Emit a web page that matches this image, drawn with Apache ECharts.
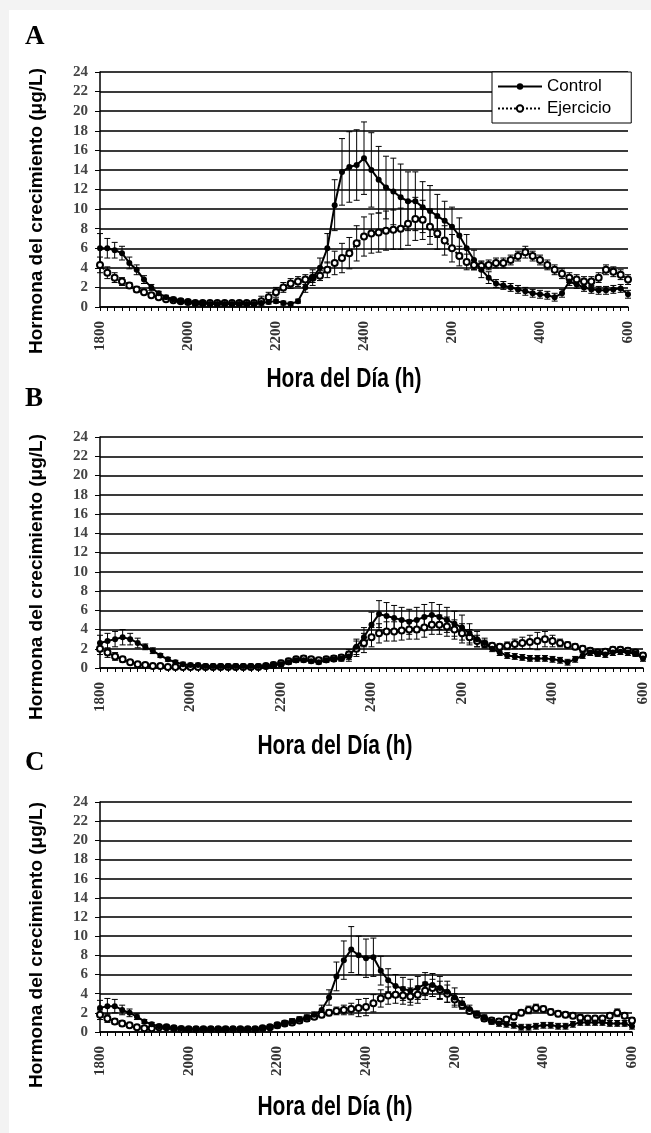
<!DOCTYPE html>
<html>
<head>
<meta charset="utf-8">
<script src="https://cdn.jsdelivr.net/npm/echarts@6/dist/echarts.min.js"></script>
<style>
  html, body {margin: 0; padding: 0; background: #f3f3f3;}
  #paper {position: absolute; left: 9px; top: 10px; right: 0; bottom: 0; background: #fff;}
  #chart {position: absolute; left: 0; top: 0; width: 651px; height: 1133px;}
</style>
</head>
<body>
<div id="paper"></div>
<div id="chart"></div>
<script>
// 10-minute samples, 1800 -> 600 (73 points)
var xTickLabels = ['1800', '2000', '2200', '2400', '200', '400', '600'];

var ctrlA = [6.0, 6.0, 5.8, 5.5, 4.5, 3.8, 2.8, 2.0, 1.4, 1.0, 0.8, 0.6, 0.5, 0.4, 0.4, 0.3, 0.3, 0.3, 0.3, 0.3,
  0.3, 0.3, 0.4, 0.5, 0.6, 0.4, 0.3, 0.6, 2.0, 3.0, 4.0, 6.0, 10.4, 13.8, 14.3, 14.5, 15.2, 14.0, 13.0, 12.2,
  11.8, 11.2, 10.8, 10.8, 10.2, 9.8, 9.3, 8.8, 8.2, 7.3, 6.0, 4.8, 3.8, 3.0, 2.4, 2.2, 2.0, 1.8, 1.6, 1.4,
  1.3, 1.2, 1.0, 1.4, 2.6, 2.3, 2.0, 1.8, 1.7, 1.7, 1.8, 1.9, 1.3];
var sdCtrlA = [1.5, 1.0, 0.8, 0.7, 0.6, 0.5, 0.4, 0.3, 0.2, 0.2, 0.2, 0.2, 0.2, 0.2, 0.2, 0.2, 0.2, 0.2, 0.2, 0.2,
  0.2, 0.2, 0.2, 0.2, 0.2, 0.2, 0.2, 0.2, 0.5, 0.8, 1.0, 1.5, 2.6, 3.4, 3.6, 3.6, 3.7, 3.8, 3.4, 3.2,
  3.4, 3.4, 3.0, 3.0, 2.6, 2.6, 2.2, 2.0, 2.0, 1.8, 1.4, 1.0, 0.8, 0.6, 0.4, 0.4, 0.4, 0.4, 0.4, 0.4,
  0.4, 0.4, 0.4, 0.4, 0.4, 0.4, 0.4, 0.4, 0.4, 0.4, 0.4, 0.4, 0.4];
var ejerA = [4.3, 3.5, 3.0, 2.6, 2.2, 1.8, 1.5, 1.2, 1.0, 0.8, 0.7, 0.6, 0.5, 0.4, 0.4, 0.4, 0.4, 0.4, 0.4, 0.4,
  0.4, 0.4, 0.6, 1.0, 1.5, 2.0, 2.4, 2.6, 2.8, 3.0, 3.2, 3.8, 4.5, 5.0, 5.5, 6.5, 7.2, 7.5, 7.6, 7.8,
  7.9, 8.0, 8.5, 9.0, 8.9, 8.2, 7.5, 6.8, 6.0, 5.2, 4.6, 4.3, 4.2, 4.3, 4.5, 4.5, 4.8, 5.2, 5.6, 5.2,
  4.8, 4.3, 3.8, 3.4, 3.0, 2.8, 2.6, 2.6, 3.0, 3.8, 3.6, 3.3, 2.8];
var sdEjerA = [0.8, 0.6, 0.5, 0.4, 0.3, 0.3, 0.2, 0.2, 0.2, 0.2, 0.2, 0.2, 0.2, 0.2, 0.2, 0.2, 0.2, 0.2, 0.2, 0.2,
  0.2, 0.2, 0.5, 0.5, 0.5, 0.5, 0.5, 0.5, 0.5, 0.5, 0.5, 0.8, 1.2, 1.5, 1.6, 1.8, 2.0, 2.0, 2.0, 2.0,
  2.0, 2.1, 2.2, 2.2, 2.0, 1.8, 1.6, 1.5, 1.4, 1.0, 0.8, 0.5, 0.5, 0.5, 0.5, 0.5, 0.5, 0.5, 0.6, 0.5,
  0.5, 0.5, 0.5, 0.5, 0.5, 0.5, 0.5, 0.5, 0.5, 0.5, 0.5, 0.5, 0.5];

var ctrlB = [2.6, 2.8, 3.0, 3.2, 3.0, 2.6, 2.2, 1.8, 1.3, 0.9, 0.6, 0.4, 0.3, 0.3, 0.2, 0.2, 0.2, 0.2, 0.2, 0.2,
  0.2, 0.2, 0.2, 0.3, 0.4, 0.6, 0.8, 0.8, 0.7, 0.6, 0.8, 0.9, 1.0, 1.2, 2.2, 3.2, 4.5, 5.6, 5.4, 5.2,
  5.0, 4.8, 5.0, 5.3, 5.5, 5.3, 5.0, 4.6, 4.2, 3.6, 3.0, 2.6, 2.0, 1.6, 1.3, 1.2, 1.1, 1.0, 1.0, 1.0,
  0.9, 0.8, 0.6, 0.9, 1.3, 1.6, 1.5, 1.4, 1.6, 1.7, 1.6, 1.5, 1.0];
var sdCtrlB = [0.8, 0.8, 0.8, 0.8, 0.6, 0.5, 0.3, 0.3, 0.2, 0.2, 0.2, 0.2, 0.2, 0.2, 0.2, 0.2, 0.2, 0.2, 0.2, 0.2,
  0.2, 0.2, 0.2, 0.2, 0.2, 0.2, 0.2, 0.2, 0.2, 0.2, 0.2, 0.2, 0.3, 0.5, 0.8, 1.0, 1.3, 1.4, 1.4, 1.3,
  1.3, 1.3, 1.3, 1.3, 1.3, 1.3, 1.3, 1.3, 1.3, 1.0, 0.8, 0.5, 0.3, 0.3, 0.3, 0.3, 0.3, 0.3, 0.3, 0.3,
  0.3, 0.3, 0.3, 0.3, 0.3, 0.3, 0.3, 0.3, 0.3, 0.3, 0.3, 0.3, 0.3];
var ejerB = [2.0, 1.6, 1.2, 0.9, 0.6, 0.4, 0.3, 0.2, 0.2, 0.1, 0.1, 0.1, 0.1, 0.1, 0.1, 0.1, 0.1, 0.1, 0.1, 0.1,
  0.1, 0.1, 0.2, 0.3, 0.5, 0.7, 0.9, 1.0, 0.9, 0.8, 0.9, 1.0, 1.1, 1.4, 2.0, 2.6, 3.2, 3.6, 3.8, 3.8,
  3.9, 4.0, 4.0, 4.2, 4.5, 4.5, 4.3, 4.0, 3.6, 3.2, 2.8, 2.5, 2.3, 2.2, 2.3, 2.5, 2.6, 2.7, 2.8, 3.0,
  2.8, 2.6, 2.4, 2.2, 2.0, 1.8, 1.6, 1.7, 1.9, 1.9, 1.8, 1.6, 1.3];
var sdEjerB = [0.6, 0.5, 0.4, 0.3, 0.2, 0.2, 0.2, 0.2, 0.2, 0.2, 0.2, 0.2, 0.2, 0.2, 0.2, 0.2, 0.2, 0.2, 0.2, 0.2,
  0.2, 0.2, 0.2, 0.3, 0.3, 0.3, 0.3, 0.3, 0.3, 0.3, 0.3, 0.3, 0.3, 0.5, 0.8, 1.0, 1.0, 1.0, 1.0, 1.0,
  1.0, 1.0, 1.0, 1.0, 1.0, 1.0, 1.0, 1.0, 1.0, 0.8, 0.6, 0.4, 0.3, 0.3, 0.4, 0.5, 0.6, 0.7, 0.9, 0.8,
  0.6, 0.4, 0.3, 0.3, 0.3, 0.3, 0.3, 0.3, 0.3, 0.3, 0.3, 0.3, 0.3];

var ctrlC = [2.5, 2.7, 2.7, 2.3, 2.0, 1.6, 1.1, 0.8, 0.6, 0.5, 0.4, 0.4, 0.3, 0.3, 0.3, 0.3, 0.3, 0.3, 0.3, 0.3,
  0.3, 0.3, 0.4, 0.5, 0.7, 0.9, 1.1, 1.3, 1.5, 1.8, 2.3, 3.6, 5.8, 7.5, 8.6, 8.0, 7.7, 7.8, 6.4, 5.4,
  4.8, 4.5, 4.3, 4.6, 5.0, 4.9, 4.6, 4.2, 3.6, 3.0, 2.4, 1.9, 1.5, 1.1, 0.9, 0.8, 0.7, 0.5, 0.5, 0.6,
  0.7, 0.7, 0.6, 0.6, 0.8, 1.0, 1.0, 1.0, 1.0, 0.9, 0.9, 0.9, 0.6];
var sdCtrlC = [0.8, 0.8, 0.7, 0.5, 0.4, 0.3, 0.2, 0.2, 0.2, 0.2, 0.2, 0.2, 0.2, 0.2, 0.2, 0.2, 0.2, 0.2, 0.2, 0.2,
  0.2, 0.2, 0.2, 0.2, 0.2, 0.2, 0.3, 0.3, 0.3, 0.3, 0.5, 0.8, 1.5, 2.0, 2.4, 2.0, 2.0, 2.0, 1.5, 1.2,
  1.2, 1.2, 1.2, 1.2, 1.2, 1.2, 1.2, 1.1, 1.0, 0.6, 0.4, 0.3, 0.3, 0.3, 0.3, 0.3, 0.3, 0.3, 0.3, 0.3,
  0.3, 0.3, 0.3, 0.3, 0.3, 0.3, 0.3, 0.3, 0.3, 0.3, 0.3, 0.3, 0.3];
var ejerC = [1.8, 1.4, 1.1, 0.9, 0.7, 0.5, 0.4, 0.4, 0.5, 0.5, 0.4, 0.3, 0.3, 0.3, 0.3, 0.3, 0.3, 0.3, 0.3, 0.3,
  0.3, 0.3, 0.4, 0.5, 0.7, 0.9, 1.0, 1.2, 1.4, 1.6, 1.8, 2.0, 2.2, 2.3, 2.4, 2.5, 2.6, 3.0, 3.5, 3.8,
  3.9, 3.8, 3.7, 3.9, 4.3, 4.6, 4.4, 4.0, 3.4, 2.8, 2.2, 1.8, 1.4, 1.2, 1.1, 1.3, 1.6, 2.0, 2.3, 2.5,
  2.4, 2.1, 1.9, 1.8, 1.7, 1.5, 1.4, 1.4, 1.4, 1.7, 2.0, 1.7, 1.2];
var sdEjerC = [0.5, 0.4, 0.3, 0.3, 0.2, 0.2, 0.2, 0.2, 0.2, 0.2, 0.2, 0.2, 0.2, 0.2, 0.2, 0.2, 0.2, 0.2, 0.2, 0.2,
  0.2, 0.2, 0.2, 0.2, 0.3, 0.3, 0.3, 0.3, 0.3, 0.3, 0.3, 0.3, 0.4, 0.5, 0.6, 0.9, 0.9, 0.9, 0.9, 0.9,
  0.9, 0.9, 0.9, 0.9, 0.9, 0.9, 0.9, 0.9, 0.6, 0.4, 0.3, 0.3, 0.3, 0.3, 0.3, 0.3, 0.3, 0.3, 0.4, 0.4,
  0.3, 0.3, 0.3, 0.3, 0.3, 0.3, 0.3, 0.3, 0.3, 0.3, 0.4, 0.3, 0.3];

var panels = [
  {ctrl: ctrlA, sdc: sdCtrlA, ejer: ejerA, sde: sdEjerA},
  {ctrl: ctrlB, sdc: sdCtrlB, ejer: ejerB, sde: sdEjerB},
  {ctrl: ctrlC, sdc: sdCtrlC, ejer: ejerC, sde: sdEjerC}
];

var serifFont = '"Liberation Serif", "Times New Roman", serif';
var sansFont = '"Liberation Sans", Arial, sans-serif';

function pts(arr) {
  return arr.map(function (v, i) { return [i, v]; });
}
function bars(arr, sd) {
  return arr.map(function (v, i) { return [i, Math.max(0, v - sd[i]), v + sd[i]]; });
}
function renderBar(params, api) {
  var a = api.coord([api.value(0), api.value(2)]);
  var b = api.coord([api.value(0), api.value(1)]);
  var w = 3, st = {stroke: '#000', lineWidth: 1};
  return {
    type: 'group',
    children: [
      {type: 'line', shape: {x1: a[0], y1: a[1], x2: b[0], y2: b[1]}, style: st},
      {type: 'line', shape: {x1: a[0] - w, y1: a[1], x2: a[0] + w, y2: a[1]}, style: st},
      {type: 'line', shape: {x1: b[0] - w, y1: b[1], x2: b[0] + w, y2: b[1]}, style: st}
    ]
  };
}

var grids = [
  {left: 100, top: 72, width: 528, height: 235},
  {left: 100, top: 437, width: 543, height: 231},
  {left: 100, top: 802, width: 532, height: 230}
];

var xAxes = [], yAxes = [], series = [];
grids.forEach(function (g, k) {
  xAxes.push({
    type: 'value', gridIndex: k, min: 0, max: 72, interval: 12,
    axisLine: {lineStyle: {color: '#000', width: 1.5}},
    axisTick: {show: true, length: 4, lineStyle: {color: '#000'}},
    minorTick: {show: true, splitNumber: 12, length: 4, lineStyle: {color: '#000'}},
    splitLine: {show: false},
    axisLabel: {
      rotate: 90, margin: 14, color: '#333', fontFamily: serifFont, fontWeight: 'bold', fontSize: 15,
      formatter: function (v) { return xTickLabels[Math.round(v / 12)]; }
    }
  });
  yAxes.push({
    type: 'value', gridIndex: k, min: 0, max: 24, interval: 2,
    axisLine: {show: true, lineStyle: {color: '#000', width: 1.5}},
    axisTick: {show: true, length: 5, lineStyle: {color: '#000'}},
    splitLine: {show: true, lineStyle: {color: '#3a3a3a', width: 2}},
    axisLabel: {margin: 12, color: '#444', fontFamily: serifFont, fontWeight: 'bold', fontSize: 15}
  });
  var p = panels[k];
  series.push({
    type: 'custom', xAxisIndex: k, yAxisIndex: k, renderItem: renderBar,
    encode: {x: 0, y: [1, 2]}, data: bars(p.ejer, p.sde), z: 2, silent: true
  });
  series.push({
    type: 'custom', xAxisIndex: k, yAxisIndex: k, renderItem: renderBar,
    encode: {x: 0, y: [1, 2]}, data: bars(p.ctrl, p.sdc), z: 2, silent: true
  });
  series.push({
    name: 'Ejercicio', type: 'line', xAxisIndex: k, yAxisIndex: k, data: pts(p.ejer),
    symbol: 'emptyCircle', symbolSize: 6,
    itemStyle: {color: '#000', borderWidth: 1.2},
    lineStyle: {color: '#000', width: 2, type: 'dotted'}, z: 3
  });
  series.push({
    name: 'Control', type: 'line', xAxisIndex: k, yAxisIndex: k, data: pts(p.ctrl),
    symbol: 'circle', symbolSize: 6,
    itemStyle: {color: '#000'},
    lineStyle: {color: '#000', width: 2}, z: 4
  });
});

function yTitle(cx, cy) {
  return {
    type: 'text', x: cx, y: cy, rotation: Math.PI / 2,
    style: {text: 'Hormona del crecimiento (μg/L)', font: 'bold 19px ' + sansFont,
      fill: '#000', textAlign: 'center', textVerticalAlign: 'middle'}
  };
}
function xTitle(cx, cy) {
  return {
    type: 'text', x: cx, y: cy, scaleY: 1.3,
    style: {text: 'Hora del Día (h)', font: 'bold 21px ' + sansFont,
      fill: '#000', textAlign: 'center', textVerticalAlign: 'middle'}
  };
}
function letter(t, cx, cy) {
  return {
    type: 'text', x: cx, y: cy,
    style: {text: t, font: 'bold 27px ' + serifFont, fill: '#000', textAlign: 'left', textVerticalAlign: 'top'}
  };
}

var chart = echarts.init(document.getElementById('chart'), null, {renderer: 'canvas'});
chart.setOption({
  animation: false,
  backgroundColor: 'transparent',
  grid: grids,
  xAxis: xAxes,
  yAxis: yAxes,
  legend: {
    data: ['Control', 'Ejercicio'], orient: 'vertical', left: 492, top: 72,
    backgroundColor: '#fff', borderColor: '#000', borderWidth: 1,
    padding: [6, 20, 6, 5], itemGap: 5, itemWidth: 44, itemHeight: 8,
    textStyle: {fontFamily: sansFont, fontSize: 17, color: '#000'}
  },
  graphic: [
    letter('A', 25, 24), letter('B', 25, 386), letter('C', 25, 750),
    yTitle(37, 211), yTitle(37, 577), yTitle(37, 945),
    xTitle(344, 379), xTitle(335, 746), xTitle(335, 1107)
  ],
  series: series
});
</script>
</body>
</html>
